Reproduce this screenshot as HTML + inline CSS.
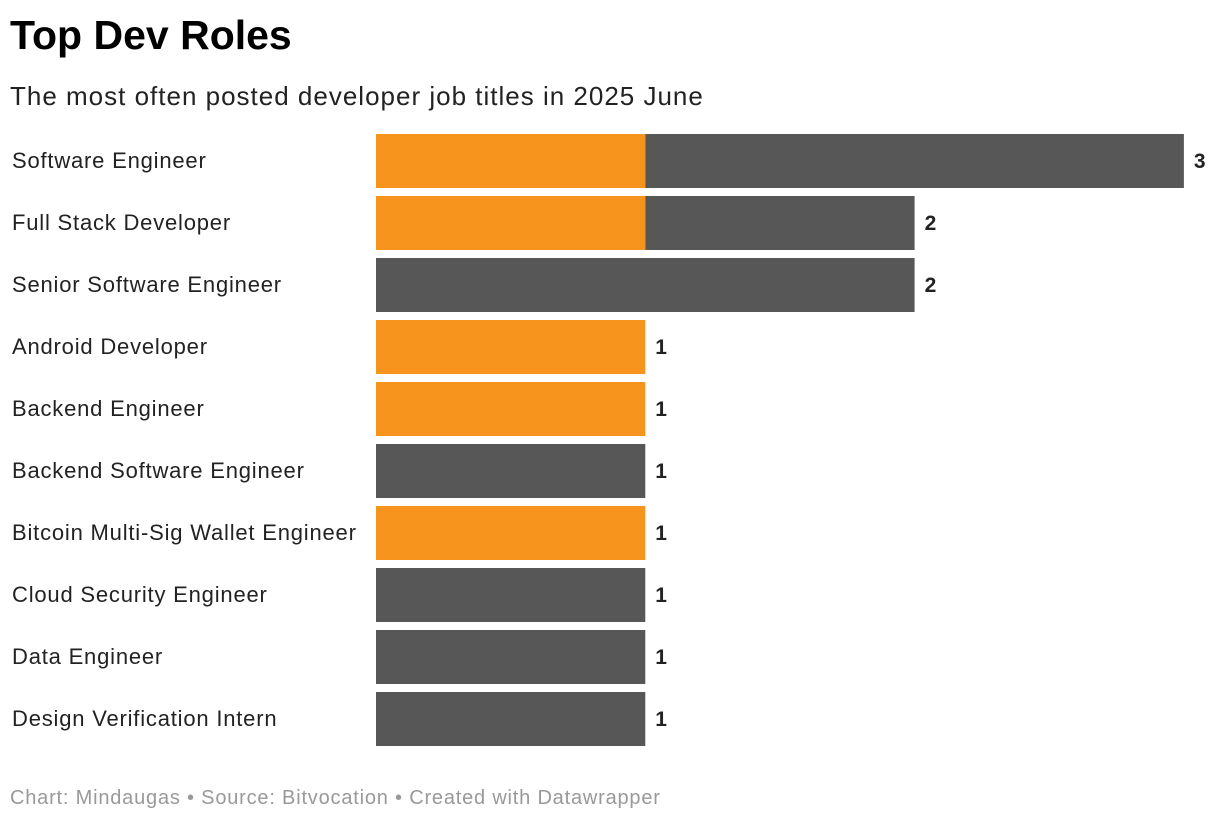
<!DOCTYPE html>
<html><head><meta charset="utf-8"><style>
body{margin:0;background:#fff;font-family:"Liberation Sans",Arial,sans-serif;width:1220px;height:822px;overflow:hidden;position:relative}
#title{position:absolute;left:10px;top:12px;font-size:41px;font-weight:bold;color:#000;letter-spacing:0px}
#sub{position:absolute;left:10px;top:81px;font-size:26px;color:#222;letter-spacing:1px}
#foot{position:absolute;left:10px;top:787px;font-size:20px;color:#999;letter-spacing:0.8px}
svg{position:absolute;left:0;top:0}
</style></head><body>
<div id="title">Top Dev Roles</div>
<div id="sub">The most often posted developer job titles in 2025 June</div>
<svg id="chart" width="1220" height="822"></svg>
<div id="foot">Chart: Mindaugas • Source: Bitvocation • Created with Datawrapper</div>
<script>
const categories=["Software Engineer","Full Stack Developer","Senior Software Engineer","Android Developer","Backend Engineer","Backend Software Engineer","Bitcoin Multi-Sig Wallet Engineer","Cloud Security Engineer","Data Engineer","Design Verification Intern"];
const orangeValues=[1,1,0,1,1,0,1,0,0,0];
const grayValues=[2,1,2,0,0,1,0,1,1,1];
const NS="http://www.w3.org/2000/svg";
const svg=document.getElementById('chart');
const x0=376,unit=269.3,top0=134,pitch=62,bh=54;
const xs=v=>x0+v*unit;
const ys=i=>top0+i*pitch;
function mk(t,a){const e=document.createElementNS(NS,t);for(const k in a)e.setAttribute(k,a[k]);svg.appendChild(e);return e;}
categories.forEach((c,i)=>{
  const y=ys(i);
  const lab=mk('text',{x:12,y:y+bh/2+7,'font-size':22,fill:'#222','letter-spacing':'0.8','font-family':'Liberation Sans, Arial, sans-serif'});
  lab.textContent=c;
  
  
  const o=orangeValues[i],g=grayValues[i];
  if(o>0){const r=mk('rect',{x:xs(0),y:y,width:xs(o)-xs(0),height:bh,fill:'#f7941d'});
    
    }
  if(g>0){const r=mk('rect',{x:xs(o),y:y,width:xs(o+g)-xs(o),height:bh,fill:'#575757'});
    
    }
  const v=mk('text',{x:xs(o+g)+10,y:y+bh/2+7,'font-size':21,'font-weight':'bold',fill:'#222','font-family':'Liberation Sans, Arial, sans-serif'});
  v.textContent=o+g;
  
  
});
</script>
</body></html>
